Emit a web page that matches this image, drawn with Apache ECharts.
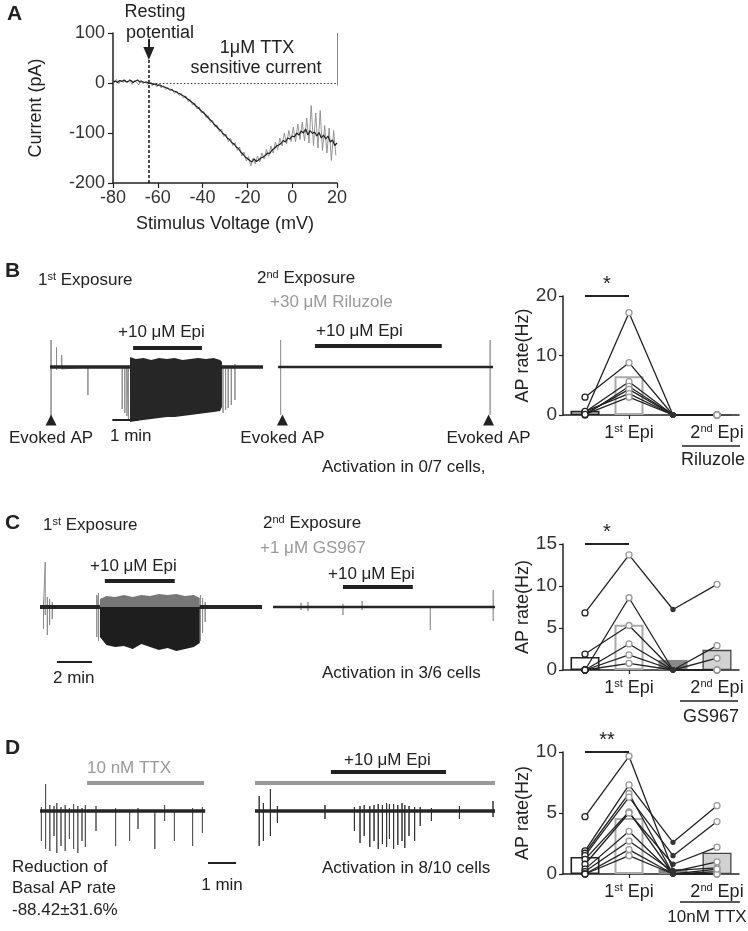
<!DOCTYPE html>
<html>
<head>
<meta charset="utf-8">
<script src="https://cdn.jsdelivr.net/npm/echarts@6/dist/echarts.min.js"></script>
<style>
html, body { margin: 0; padding: 0; background: #fff; }
#chart { width: 748px; height: 931px; }
</style>
</head>
<body>
<div id="chart"></div>
<script>
// ---------- A: 1uM TTX sensitive current (pA) vs stimulus voltage (mV)
var voltStart = -80;   // first sample, 1 mV steps
var meanCurrent = [2,4,1,5,3,6,2,4,5,1, 4,6,2,3,1,2,-1,0,-3,-2,
  -5,-4,-7,-8,-10,-12,-13,-16,-17,-20, -22,-25,-27,-31,-34,-38,-41,-46,-49,-54,
  -58,-62,-67,-72,-76,-82,-86,-91,-95,-101, -104,-110,-113,-119,-122,-128,-131,-138,-142,-148,
  -151,-155,-158,-152,-157,-154,-150,-148,-145,-140, -141,-134,-131,-126,-124,-121,-115,-118,-110,-112,
  -106,-108,-100,-104,-96,-100,-92,-104,-95,-101, -98,-106,-99,-110,-104,-112,-106,-118,-114,-125, -120];
// raw samples, half way between the mean samples
var rawCurrent = [0,7,-2,6,1,5,0,8,-3,5, 2,-4,6,-2,3,-3,2,-6,0,-8,
  -2,-10,-5,-13,-9,-16,-12,-21,-16,-25, -21,-30,-26,-37,-33,-44,-40,-52,-48,-60,
  -57,-69,-65,-79,-75,-88,-84,-97,-92,-107, -102,-117,-111,-125,-119,-135,-128,-146,-138,-156,
  -147,-166,-150,-162,-146,-158,-140,-152,-133,-147, -126,-140,-118,-133,-110,-126,-100,-122,-95,-117,
  -88,-118,-82,-113,-78,-116,-70,-120,-45,-125, -60,-130,-55,-135,-85,-140,-90,-155,-95,-145];
var restingMv = -64;

// ---------- traces: time (min), spikes as [t, peak, trough]
var bLeftBase = [[0, 0], [8.2, 0]];
var bLeftSpikes = [[0.04,27,-55],[0.25,20,-3],[0.45,12,-2],[1.46,2,-28],[2.78,0,-42],[2.88,0,-46],
  [2.96,0,-49],[3.02,0,-52],[6.66,0,-46],[6.76,0,-43],[6.86,0,-41],[6.98,0,-38],[7.12,3,-33]];
var bLeftBurstT = [3.08,3.3,3.6,3.9,4.2,4.5,4.8,5.1,5.4,5.7,6.0,6.3,6.55,6.62];
var bLeftBurstTop = [10,8,9,7,9,8,9,7,8,9,8,9,7,5];
var bLeftBurstBot = [-55,-54,-53,-52,-51,-50,-50,-49,-48,-47,-46,-45,-44,-40];
var bRightBase = [[0, 0], [8.27, 0]];
var bRightSpikes = [[0.1,27,-48],[8.16,27,-48]];
var evokedLeft = [0.04];
var evokedRight = [0.17, 8.1];

var cLeftBase = [[0, 0], [12.7, 0]];
var cLeftSpikes = [[0.2,6,-22],[0.3,45,-8],[0.42,10,-28],[0.55,8,-18],[0.7,5,-12],[3.25,12,-30],
  [3.35,14,-34],[9.18,12,-34],[9.3,9,-26],[9.45,5,-15]];
var cLeftBurstT = [3.43,3.8,4.3,4.8,5.3,5.8,6.3,6.8,7.3,7.8,8.3,8.8,9.14];
var cLeftBurstTop = [8,11,10,12,10,12,11,13,12,13,11,12,9];
var cLeftBurstBot = [-30,-38,-40,-39,-42,-37,-40,-43,-41,-44,-42,-40,-36];
var cRightBase = [[0, 0], [12.7, 0]];
var cRightSpikes = [[1.6,4,-3],[2.0,5,-4],[4.0,3,-8],[5.1,6,-3],[9.0,2,-23],[12.6,17,-14]];

var dLeftBase = [[0, 0], [5.9, 0]];
var dLeftSpikes = [[0.05,4,-30],[0.2,27,-38],[0.35,6,-40],[0.5,5,-25],[0.6,8,-42],[0.75,4,-35],
  [0.9,6,-40],[1.05,3,-28],[1.2,7,-38],[1.35,5,-42],[1.5,3,-30],[1.62,6,-36],[2.0,5,-20],[2.7,3,-35],
  [3.2,2,-30],[3.5,3,-18],[4.1,2,-38],[4.45,6,-10],[4.8,2,-30],[5.45,3,-35],[5.8,4,-22]];
var dRightBase = [[0, 0], [8.57, 0]];
var dRightSpikes = [[0.15,15,-35],[0.3,8,-30],[0.55,22,-25],[0.8,5,-12],[2.5,6,-8],[3.55,4,-20],
  [3.75,5,-32],[3.9,6,-25],[4.1,5,-36],[4.25,6,-30],[4.4,7,-38],[4.55,6,-33],[4.7,8,-36],[4.8,7,-28],
  [4.95,7,-38],[5.1,6,-34],[5.25,8,-30],[5.35,6,-37],[5.5,5,-25],[5.7,4,-30],[5.9,4,-15],[6.3,3,-10],
  [7.3,5,-8],[8.5,10,-6]];

// ---------- AP rate (Hz): baseline, 1st Epi, baseline 2, 2nd Epi
var conditions = ['base1', 'epi1', 'base2', 'epi2'];
var bMeans = [0.7, 6.5, 0, 0];
var bCells = [[0.3,17.2,0,0],[3.0,8.8,0,0],[0.5,5.6,0,0],[0,4.8,0,0],[0.2,4.3,0,0],[0.6,3.6,0,0],[0.1,3.0,0,0]];
var cMeans = [1.55, 5.4, 1.2, 2.4];
var cCells = [[6.8,13.7,7.2,10.2],[0,8.6,0,2.9],[1.9,5.3,0,1.4],[0,3.1,0,0],[0,1.8,0,0],[0,0.8,0,0]];
var dMeans = [1.4, 4.6, 0.4, 1.75];
var dCells = [[4.7,9.65,0.3,0.5],[1.9,7.3,2.6,5.6],[1.7,6.6,0,0.2],[1.5,6.3,1.5,4.3],[1.2,5.1,0,0],
  [0.8,5.0,0.8,2.2],[0.4,3.5,0,0],[0.2,2.7,0.2,1.0],[0,2.0,0,0],[0,1.5,0,0.4]];

var FONT = "'Liberation Sans', Arial, sans-serif";
var INK = '#222';
var GREY = '#999';

function spikePath(spikes) {
  var pts = [];
  spikes.forEach(function (s) {
    pts.push([s[0], 0], [s[0], s[1]], [s[0], s[2]], [s[0], 0]);
  });
  return pts;
}

function bar(t0, t1, y, color, width) {
  return [{ coord: [t0, y], lineStyle: { color: color, width: width, type: 'solid' } }, { coord: [t1, y] }];
}

function traceSeries(idx, base, baseWidth, spikes, spikeColor, bars) {
  return [
    { type: 'line', xAxisIndex: idx, yAxisIndex: idx, data: spikePath(spikes), showSymbol: false,
      lineStyle: { color: spikeColor, width: 1 }, z: 2, animation: false, silent: true },
    { type: 'line', xAxisIndex: idx, yAxisIndex: idx, data: base, showSymbol: false,
      lineStyle: { color: '#262626', width: baseWidth }, z: 3, animation: false, silent: true,
      markLine: { symbol: 'none', silent: true, animation: false, label: { show: false }, data: bars } }
  ];
}

function burstSeries(idx, T, top, bot, upFill, downFill) {
  return {
    type: 'custom', xAxisIndex: idx, yAxisIndex: idx, data: [[T[0], 0]], z: 4, silent: true, animation: false,
    renderItem: function (params, api) {
      var up = [], down = [], i;
      for (i = 0; i < T.length; i++) up.push(api.coord([T[i], top[i]]));
      for (i = T.length - 1; i >= 0; i--) up.push(api.coord([T[i], 0]));
      for (i = 0; i < T.length; i++) down.push(api.coord([T[i], 0]));
      for (i = T.length - 1; i >= 0; i--) down.push(api.coord([T[i], bot[i]]));
      return { type: 'group', children: [
        { type: 'polygon', shape: { points: up }, style: { fill: upFill } },
        { type: 'polygon', shape: { points: down }, style: { fill: downFill } }
      ] };
    }
  };
}

function evokedSeries(idx, times) {
  return {
    type: 'scatter', xAxisIndex: idx, yAxisIndex: idx, symbol: 'triangle', symbolSize: [11, 11],
    itemStyle: { color: INK, opacity: 1 }, z: 5, silent: true, animation: false,
    data: times.map(function (t) { return [t, -53]; }),
    label: { show: true, position: 'bottom', distance: 4, formatter: 'Evoked AP',
      fontFamily: FONT, fontSize: 17, color: INK }
  };
}

function rateSeries(idx, means, cells, sigTop, sigText) {
  var barStyles = [
    { color: 'rgba(0,0,0,0)', borderColor: INK, borderWidth: 1.6 },
    { color: 'rgba(0,0,0,0)', borderColor: '#aaa', borderWidth: 2 },
    { color: '#888' },
    { color: '#d2d2d2', borderColor: '#444', borderWidth: 1.3 }
  ];
  var out = [{
    type: 'bar', xAxisIndex: idx, yAxisIndex: idx, barWidth: 29, z: 1, silent: true, animation: false,
    data: means.map(function (m, i) { return { value: m, itemStyle: barStyles[i] }; }),
    markLine: { symbol: 'none', silent: true, animation: false,
      lineStyle: { color: INK, width: 2, type: 'solid' },
      label: { show: true, position: 'middle', formatter: sigText, fontFamily: FONT, fontSize: 20, color: INK, distance: 2 },
      data: [[{ coord: [conditions[0], sigTop] }, { coord: [conditions[1], sigTop] }]] }
  }];
  cells.forEach(function (c) {
    out.push({
      type: 'line', xAxisIndex: idx, yAxisIndex: idx, z: 3, silent: true, animation: false,
      symbol: 'circle', symbolSize: 6, lineStyle: { color: INK, width: 1.3 },
      itemStyle: { color: '#fff', borderColor: GREY, borderWidth: 1.3 },
      data: c.map(function (v, i) {
        if (i === 0) return { value: v, itemStyle: { color: '#fff', borderColor: INK, borderWidth: 1.3 } };
        if (i === 2) return { value: v, symbolSize: 4, itemStyle: { color: '#333', borderColor: '#333' } };
        return v;
      })
    });
  });
  return out;
}

var supRich = { sup: { fontSize: 11, verticalAlign: 'top', lineHeight: 11, fontFamily: FONT, color: INK } };
var catLabels = { base1: '', epi1: '1{sup|st} Epi', base2: '', epi2: '2{sup|nd} Epi' };

function traceAxes(grid, tMax) {
  return {
    x: { type: 'value', gridIndex: grid, min: 0, max: tMax, show: false },
    y: { type: 'value', gridIndex: grid, min: -60, max: 50, show: false }
  };
}

function rateAxes(grid, yMax, yStep) {
  return {
    x: { type: 'category', gridIndex: grid, data: conditions,
      axisLine: { onZero: false, lineStyle: { color: INK, width: 1.5 } },
      axisTick: { show: true, alignWithLabel: true, length: 4, lineStyle: { color: INK, width: 1.2 },
        interval: function (i) { return i === 1 || i === 3; } },
      axisLabel: { interval: 0, margin: 8, fontFamily: FONT, fontSize: 18, color: INK, lineHeight: 20,
        formatter: function (v) { return catLabels[v]; }, rich: supRich } },
    y: { type: 'value', gridIndex: grid, min: 0, max: yMax, interval: yStep,
      name: 'AP rate(Hz)', nameLocation: 'middle', nameGap: 27,
      nameTextStyle: { fontFamily: FONT, fontSize: 18, color: INK },
      axisLine: { show: true, onZero: false, lineStyle: { color: INK, width: 1.5 } },
      axisTick: { show: true, length: 4, lineStyle: { color: INK, width: 1.2 } },
      splitLine: { show: false },
      axisLabel: { margin: 6, fontFamily: FONT, fontSize: 19, color: '#333' } }
  };
}

var grids = [
  { left: 113, top: 33, width: 224, height: 150 },   // A
  { left: 50, top: 317, width: 213, height: 110 },   // B traces
  { left: 278, top: 317, width: 215, height: 110 },
  { left: 563, top: 296, width: 176, height: 119 },  // B rates
  { left: 40, top: 557, width: 222, height: 110 },   // C traces
  { left: 273, top: 557, width: 222, height: 110 },
  { left: 563, top: 544, width: 176, height: 126 },  // C rates
  { left: 40, top: 761, width: 196, height: 110 },   // D traces
  { left: 255, top: 761, width: 240, height: 110 },
  { left: 563, top: 752, width: 176, height: 122 }   // D rates
];

var axes = [
  { x: { type: 'value', gridIndex: 0, min: -80, max: 20, interval: 20,
      name: 'Stimulus Voltage (mV)', nameLocation: 'middle', nameGap: 32,
      nameTextStyle: { fontFamily: FONT, fontSize: 18, color: INK },
      axisLine: { onZero: false, lineStyle: { color: INK, width: 1.5 } },
      axisTick: { length: 5, lineStyle: { color: INK, width: 1.2 } },
      splitLine: { show: false },
      axisLabel: { margin: 6, fontFamily: FONT, fontSize: 18, color: '#333' } },
    y: { type: 'value', gridIndex: 0, min: -200, max: 100, interval: 100,
      name: 'Current (pA)', nameLocation: 'middle', nameGap: 68,
      nameTextStyle: { fontFamily: FONT, fontSize: 18, color: INK },
      axisLine: { show: true, onZero: false, lineStyle: { color: INK, width: 1.5 } },
      axisTick: { show: true, length: 5, lineStyle: { color: INK, width: 1.2 } },
      splitLine: { show: false },
      axisLabel: { margin: 8, fontFamily: FONT, fontSize: 18, color: '#333' } } },
  traceAxes(1, 8.2), traceAxes(2, 8.27), rateAxes(3, 20, 10),
  traceAxes(4, 12.7), traceAxes(5, 12.7), rateAxes(6, 15, 5),
  traceAxes(7, 7), traceAxes(8, 8.57), rateAxes(9, 10, 5)
];

var series = [];
series.push({
  type: 'line', xAxisIndex: 0, yAxisIndex: 0, showSymbol: false, z: 2, animation: false, silent: true,
  lineStyle: { color: '#8a8a8a', width: 0.9 },
  data: rawCurrent.map(function (v, i) { return [voltStart + 0.5 + i, v]; })
});
series.push({
  type: 'line', xAxisIndex: 0, yAxisIndex: 0, showSymbol: false, z: 3, animation: false, silent: true,
  lineStyle: { color: '#1e1e1e', width: 1.2 },
  data: meanCurrent.map(function (v, i) { return [voltStart + i, v]; }),
  markLine: { symbol: 'none', silent: true, animation: false, label: { show: false },
    data: [
      [{ coord: [restingMv, 46], lineStyle: { color: INK, width: 1.6, type: [3, 2] } }, { coord: [restingMv, -200] }],
      [{ coord: [restingMv, 0], lineStyle: { color: '#333', width: 1, type: [1.5, 2] } }, { coord: [20, 0] }],
      [{ coord: [20, 100], lineStyle: { color: '#888', width: 1, type: 'solid' } }, { coord: [20, -5] }],
      [{ coord: [restingMv, 88], lineStyle: { color: INK, width: 2, type: 'solid' } },
       { coord: [restingMv, 59], symbol: 'triangle', symbolSize: [11, 13] }]
    ] }
});

series = series.concat(
  traceSeries(1, bLeftBase, 3.5, bLeftSpikes, '#8c8c8c', [bar(3.2, 5.85, 19, INK, 4), bar(2.4, 3.4, -53, INK, 2)]),
  [burstSeries(1, bLeftBurstT, bLeftBurstTop, bLeftBurstBot, '#262626', '#262626'), evokedSeries(1, evokedLeft)],
  traceSeries(2, bRightBase, 2.5, bRightSpikes, '#999', [bar(1.42, 6.3, 21, INK, 4)]),
  [evokedSeries(2, evokedRight)],
  rateSeries(3, bMeans, bCells, 20, '*'),
  traceSeries(4, cLeftBase, 4, cLeftSpikes, '#8c8c8c', [bar(3.71, 7.71, 26, INK, 4), bar(0.97, 2.97, -55, INK, 2)]),
  [burstSeries(4, cLeftBurstT, cLeftBurstTop, cLeftBurstBot, '#777', '#1e1e1e')],
  traceSeries(5, cRightBase, 2.5, cRightSpikes, '#999', [bar(4.0, 8.0, 20, INK, 4)]),
  rateSeries(6, cMeans, cCells, 15, '*'),
  traceSeries(7, dLeftBase, 3.5, dLeftSpikes, '#555', [bar(1.68, 5.86, 28, GREY, 4), bar(6.0, 7.0, -52, INK, 2)]),
  traceSeries(8, dRightBase, 3.5, dRightSpikes, '#333', [bar(0, 8.57, 28, GREY, 4), bar(2.71, 6.82, 39, INK, 4)]),
  rateSeries(9, dMeans, dCells, 10, '**')
);

function txt(x, y, s, o) {
  o = o || {};
  return { type: 'text', x: x, y: y, silent: true,
    style: { text: s, fill: o.fill || INK, font: (o.bold ? 'bold ' : '') + (o.size || 17) + 'px ' + FONT,
      textAlign: o.align || 'left', textVerticalAlign: 'middle', rich: supRich } };
}
function rule(x1, x2, y) {
  return { type: 'line', silent: true, shape: { x1: x1, y1: y, x2: x2, y2: y }, style: { stroke: INK, lineWidth: 1.6 } };
}

var graphics = [
  txt(7, 14, 'A', { bold: true, size: 21 }),
  txt(155, 12, 'Resting', { align: 'center', size: 18 }),
  txt(160, 33, 'potential', { align: 'center', size: 18 }),
  txt(257, 48, '1μM TTX', { align: 'center', size: 18 }),
  txt(256, 68, 'sensitive current', { align: 'center', size: 18 }),

  txt(5, 271, 'B', { bold: true, size: 21 }),
  txt(38, 280, '1{sup|st} Exposure'),
  txt(257, 278, '2{sup|nd} Exposure'),
  txt(270, 302, '+30 μM Riluzole', { fill: GREY }),
  txt(118, 332, '+10 μM Epi'),
  txt(316, 331, '+10 μM Epi'),
  txt(110, 436, '1 min'),
  txt(322, 467, 'Activation in 0/7 cells,'),
  rule(682, 740, 446),
  txt(713, 460, 'Riluzole', { align: 'center', size: 18 }),

  txt(5, 523, 'C', { bold: true, size: 21 }),
  txt(43, 525, '1{sup|st} Exposure'),
  txt(263, 523, '2{sup|nd} Exposure'),
  txt(260, 548, '+1 μM GS967', { fill: GREY }),
  txt(90, 566, '+10 μM Epi'),
  txt(328, 574, '+10 μM Epi'),
  txt(53, 678, '2 min'),
  txt(322, 673, 'Activation in 3/6 cells'),
  rule(680, 738, 701),
  txt(711, 717, 'GS967', { align: 'center', size: 18 }),

  txt(5, 748, 'D', { bold: true, size: 21 }),
  txt(87, 768, '10 nM TTX', { fill: GREY }),
  txt(344, 760, '+10 μM Epi'),
  txt(12, 867, 'Reduction of'),
  txt(12, 888, 'Basal AP rate'),
  txt(12, 910, '-88.42±31.6%'),
  txt(222, 885, '1 min', { align: 'center' }),
  txt(322, 868, 'Activation in 8/10 cells'),
  rule(680, 740, 902),
  txt(707, 917, '10nM TTX', { align: 'center', size: 17 })
];

var chart = echarts.init(document.getElementById('chart'));
chart.setOption({
  backgroundColor: '#fff',
  animation: false,
  grid: grids,
  xAxis: axes.map(function (a) { return a.x; }),
  yAxis: axes.map(function (a) { return a.y; }),
  series: series,
  graphic: graphics
});
</script>
</body>
</html>
